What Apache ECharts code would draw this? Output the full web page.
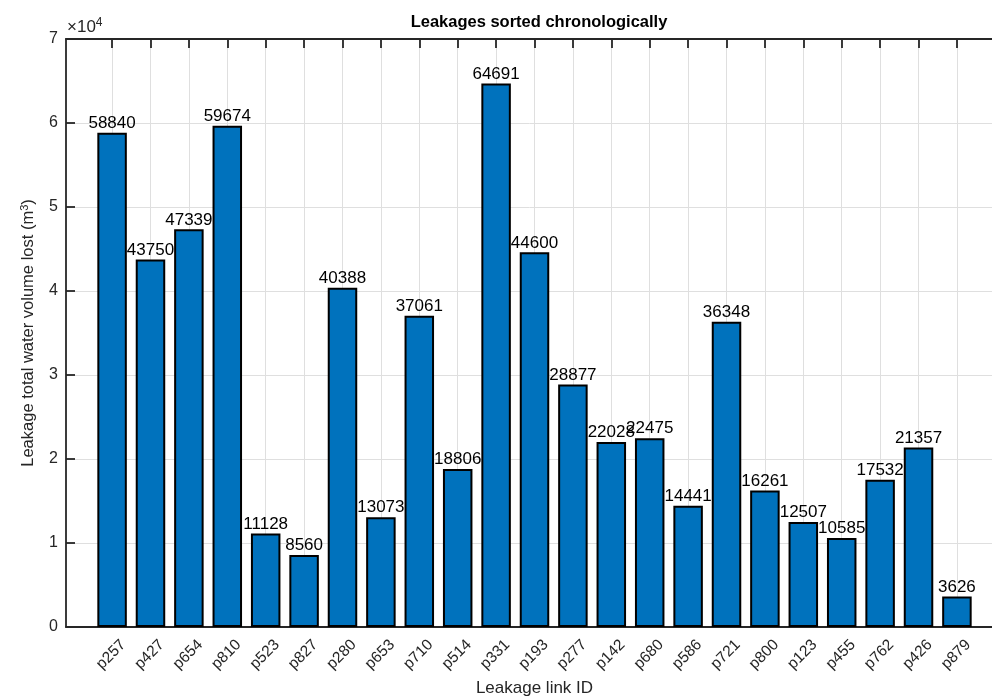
<!DOCTYPE html>
<html>
<head>
<meta charset="utf-8">
<script src="https://cdn.jsdelivr.net/npm/echarts@6/dist/echarts.min.js"></script>
<style>html,body{margin:0;padding:0;background:#fff}#c{width:992px;height:698px}</style>
</head>
<body>
<div id="c"></div>
<script>
const categories = ['p257','p427','p654','p810','p523','p827','p280','p653','p710','p514','p331','p193','p277','p142','p680','p586','p721','p800','p123','p455','p762','p426','p879'];
const values = [58840,43750,47339,59674,11128,8560,40388,13073,37061,18806,64691,44600,28877,22028,22475,14441,36348,16261,12507,10585,17532,21357,3626];
const yTicks = [0,10000,20000,30000,40000,50000,60000,70000];

const positions = categories.map((c, i) => i + 1);
const FONT = '"Liberation Sans", Arial, Helvetica, sans-serif';
const AX = '#262626';

const chart = echarts.init(document.getElementById('c'));
const xCommon = {
  type: 'value',
  min: -0.2,
  max: categories.length + 1.2,
  axisLine: {show: true, onZero: false, lineStyle: {color: AX, width: 1.8}},
  axisTick: {show: true, inside: true, length: 9, customValues: positions, lineStyle: {color: AX, width: 1.8}}
};
chart.setOption({
  animation: false,
  textStyle: {fontFamily: FONT},
  title: {
    text: 'Leakages sorted chronologically',
    left: 534, textAlign: 'center', top: 9,
    textStyle: {fontFamily: FONT, fontWeight: 'bold', fontSize: 16.5, color: '#000'}
  },
  grid: {left: 66, top: 39, width: 937, height: 588, containLabel: false, outerBoundsMode: 'none'},
  graphic: [{
    type: 'text', left: 67, top: 17,
    style: {
      text: '×10{s|4}', fontFamily: FONT, fontSize: 17, fill: AX,
      rich: {s: {fontSize: 12, verticalAlign: 'top', fontFamily: FONT, fill: AX, padding: [0, 0, 8, 0]}}
    }
  }],
  xAxis: [
    Object.assign({}, xCommon, {
      position: 'bottom',
      name: 'Leakage link ID',
      nameLocation: 'middle',
      nameGap: 53,
      nameMoveOverlap: false,
      nameTextStyle: {fontFamily: FONT, fontSize: 17, color: AX},
      axisLabel: {
        customValues: positions,
        rotate: 45, margin: 4,
        verticalAlign: 'top',
        padding: [8, 0, 0, 0],
        fontFamily: FONT, fontSize: 15.5, color: AX,
        formatter: v => categories[Math.round(v) - 1] || ''
      },
      splitLine: {show: true, customValues: positions, lineStyle: {color: '#dfdfdf', width: 1}}
    }),
    Object.assign({}, xCommon, {
      position: 'top',
      axisLabel: {show: false},
      splitLine: {show: false}
    })
  ],
  yAxis: {
    type: 'value',
    min: 0, max: 70000, interval: 10000,
    name: 'Leakage total water volume lost (m{s|3})',
    nameLocation: 'middle',
    nameGap: 28,
    nameMoveOverlap: false,
    nameTextStyle: {
      fontFamily: FONT, fontSize: 16.5, color: AX,
      rich: {s: {fontSize: 11, verticalAlign: 'top', fontFamily: FONT, color: AX, padding: [0, 0, 8, 0]}}
    },
    axisLine: {show: true, onZero: false, lineStyle: {color: AX, width: 1.8}},
    axisTick: {show: true, inside: true, length: 9, lineStyle: {color: AX, width: 1.8}},
    axisLabel: {
      margin: 8, fontFamily: FONT, fontSize: 16, color: AX,
      formatter: v => yTicks.indexOf(v) >= 0 ? String(v / 10000) : ''
    },
    splitLine: {show: true, lineStyle: {color: '#dfdfdf', width: 1}}
  },
  series: [{
    type: 'bar',
    xAxisIndex: 0,
    barWidth: 29.5,
    data: positions.map((p, i) => [p, values[i]]),
    itemStyle: {color: '#0072BD', borderColor: '#000', borderWidth: 2},
    label: {
      show: true, position: 'top', distance: 1,
      fontFamily: FONT, fontSize: 17, color: '#000',
      formatter: p => String(p.value[1])
    },
    z: 3
  }]
});
</script>
</body>
</html>
